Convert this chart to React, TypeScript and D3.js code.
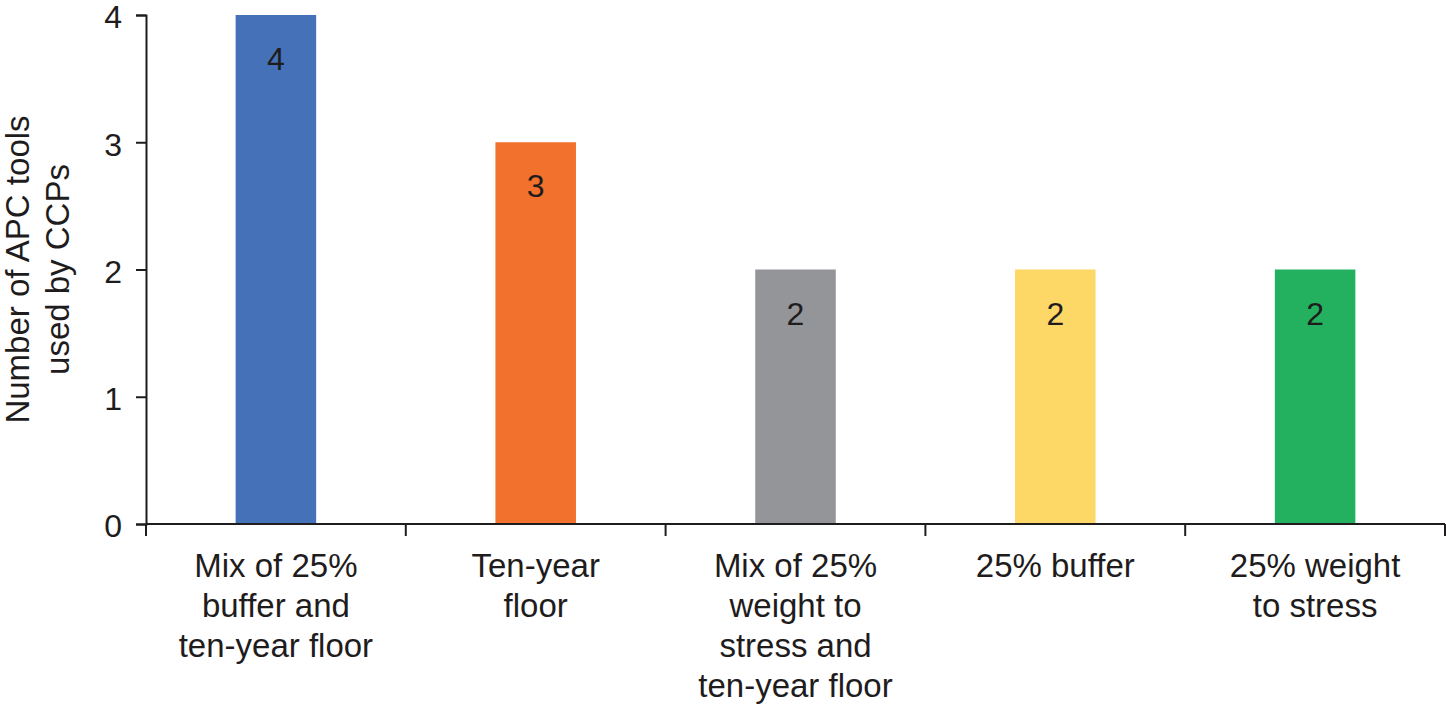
import { useEffect, useRef } from 'react'
import * as d3 from 'd3'

const categories = [
  ['Mix of 25%', 'buffer and', 'ten-year floor'],
  ['Ten-year', 'floor'],
  ['Mix of 25%', 'weight to', 'stress and', 'ten-year floor'],
  ['25% buffer'],
  ['25% weight', 'to stress'],
]
const values = [4, 3, 2, 2, 2]
const colors = ['#4571B8', '#F1712D', '#939598', '#FDD867', '#23B15F']
const yTicks = [0, 1, 2, 3, 4]
const yLabel = ['Number of APC tools', 'used by CCPs']

const W = 1446
const H = 708
const MARGIN = { top: 15, right: 1, bottom: 184, left: 146 }
const FONT = '"Liberation Sans", Arial, Helvetica, sans-serif'
const TEXT = '#1f1c1d'

export default function App() {
  const svgRef = useRef<SVGSVGElement>(null)

  useEffect(() => {
    const svgEl = svgRef.current
    if (!svgEl) return
    const svg = d3.select(svgEl)
    svg.selectAll('*').remove()

    const innerWidth = W - MARGIN.left - MARGIN.right
    const innerHeight = H - MARGIN.top - MARGIN.bottom

    const g = svg.append('g').attr('transform', `translate(${MARGIN.left},${MARGIN.top})`)

    const idx = values.map((_, i) => i)
    const x = d3.scaleBand<number>().domain(idx).range([0, innerWidth]).paddingInner(0.69).paddingOuter(0.345)
    const xOuter = d3.scaleBand<number>().domain(idx).range([0, innerWidth])
    const y = d3.scaleLinear([0, 4], [innerHeight, 0])

    // ── Bars ──────────────────────────────────────────────
    g.selectAll('rect.bar')
      .data(values)
      .join('rect')
      .attr('class', 'bar')
      .attr('x', (_, i) => x(i)!)
      .attr('width', x.bandwidth())
      .attr('y', d => y(d))
      .attr('height', d => innerHeight - y(d))
      .attr('fill', (_, i) => colors[i])

    // value labels inside bars
    g.selectAll('text.val')
      .data(values)
      .join('text')
      .attr('class', 'val')
      .attr('x', (_, i) => x(i)! + x.bandwidth() / 2)
      .attr('y', d => y(d) + 55)
      .attr('text-anchor', 'middle')
      .attr('font-family', FONT).attr('font-size', 32).attr('fill', TEXT)
      .text(d => d)

    // ── Y axis ────────────────────────────────────────────
    g.append('g')
      .call(d3.axisLeft(y).tickValues(yTicks).tickSize(10).tickPadding(14).tickFormat(d3.format('d')))
      .call(ag => ag.select('.domain').attr('stroke', TEXT).attr('stroke-width', 2))
      .call(ag => ag.selectAll('.tick line').attr('stroke', TEXT).attr('stroke-width', 2))
      .call(ag => ag.selectAll('text').attr('fill', TEXT).attr('font-size', 32).attr('font-family', FONT)
        .attr('dy', '0.4em'))

    // ── X axis ────────────────────────────────────────────
    const xg = g.append('g').attr('transform', `translate(0,${innerHeight})`)
    xg.append('line')
      .attr('x1', 0).attr('x2', innerWidth)
      .attr('stroke', TEXT).attr('stroke-width', 2)
    const boundaries = [...idx.map(i => xOuter(i)!), innerWidth]
    xg.selectAll('line.tick')
      .data(boundaries)
      .join('line')
      .attr('class', 'tick')
      .attr('x1', d => d).attr('x2', d => d)
      .attr('y1', 0).attr('y2', 12)
      .attr('stroke', TEXT).attr('stroke-width', 2)

    categories.forEach((lines, i) => {
      const cx = xOuter(i)! + xOuter.bandwidth() / 2
      const t = xg.append('text')
        .attr('text-anchor', 'middle')
        .attr('font-family', FONT).attr('font-size', 33).attr('fill', TEXT)
      lines.forEach((line, li) => {
        t.append('tspan').attr('x', cx).attr('y', 53 + li * 40).text(line)
      })
    })

    // ── Y label ───────────────────────────────────────────
    const yl = svg.append('text')
      .attr('transform', `translate(0,${MARGIN.top + innerHeight / 2}) rotate(-90)`)
      .attr('text-anchor', 'middle')
      .attr('font-family', FONT).attr('font-size', 33).attr('fill', TEXT)
    yLabel.forEach((line, li) => {
      yl.append('tspan').attr('x', 0).attr('y', 29 + li * 40).text(line)
    })
  }, [])

  return (
    <svg
      ref={svgRef}
      width={W}
      height={H}
      style={{ position: 'absolute', left: 0, top: 0, background: '#fff' }}
    />
  )
}
